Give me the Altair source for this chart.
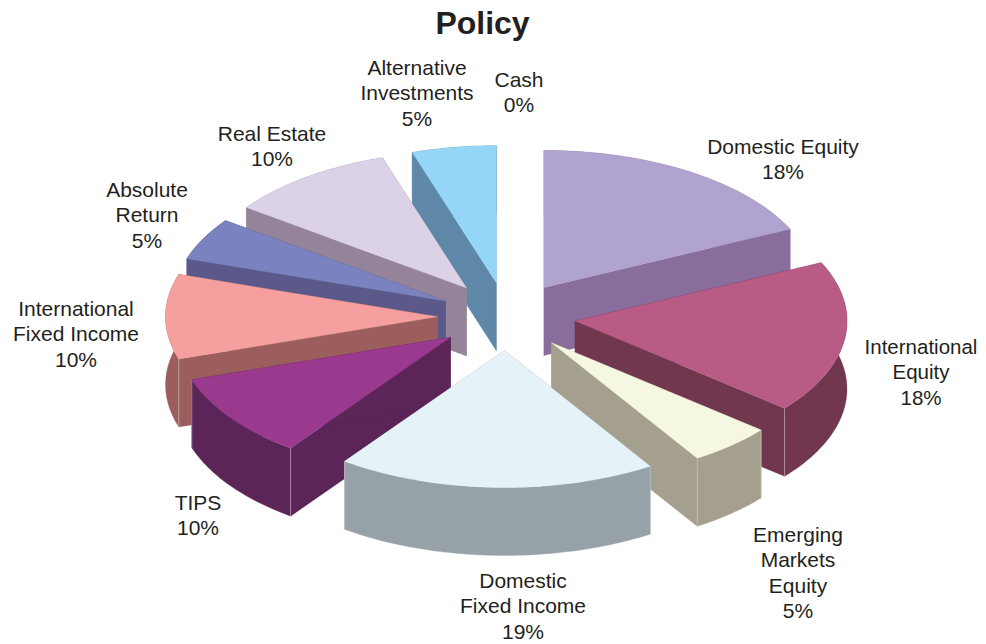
import math
import altair as alt

# ---- data
names = ["Domestic Equity", "International\nEquity", "Emerging\nMarkets\nEquity", "Domestic\nFixed Income",
         "TIPS", "International\nFixed Income", "Absolute\nReturn", "Real Estate",
         "Alternative\nInvestments", "Cash"]
shares = [18, 18, 5, 19, 10, 10, 5, 10, 5, 0]
top_colors = ["#B0A3D0", "#B85C85", "#F5F7E0", "#E5F3F8", "#993A8F", "#F5A09E", "#7A83BF", "#DBD2E8", "#95D5F5", "#FFFFFF"]
wall_colors = ["#896D9C", "#70374F", "#A5A08E", "#97A2A8", "#5B2558", "#9C5E5C", "#5B598A", "#958499", "#5F88A8", "#FFFFFF"]

# ---- layout of the exploded 3-D pie
RX, RY, DEPTH = 272, 137, 68
apex_x = [544.0, 575.0, 551.5, 504.5, 450.5, 437.5, 445.5, 466.5, 496.3, 510.0]
apex_y = [287.5, 321.0, 342.7, 350.5, 337.3, 316.7, 301.0, 288.0, 282.7, 320.0]
paint_order = [8, 0, 7, 6, 5, 1, 4, 2, 3]
label_x = [783, 921, 798, 523, 198, 76, 147, 272, 417, 519]
label_y = [147.5, 347.5, 535.5, 581.5, 503.5, 309.5, 190.5, 134.5, 68.5, 80.5]
label_size = [21, 20.5, 21, 21, 21, 21, 21, 21, 21, 21]


def polygon(points, fill, stroke, width):
    ring = [list(p) for p in points]
    ring.append(ring[0])
    return {"type": "Feature", "geometry": {"type": "Polygon", "coordinates": [ring]},
            "properties": {"fill": fill, "stroke": stroke, "sw": width}}


def edge(a, b, stroke):
    return {"type": "Feature", "geometry": {"type": "LineString", "coordinates": [list(a), list(b)]},
            "properties": {"fill": "none", "stroke": stroke, "sw": 0.5}}


def slice_features(i, start, sweep):
    ax, ay = apex_x[i], apex_y[i]
    steps = max(2, int(sweep))
    arc = []
    for k in range(steps + 1):
        t = math.radians(start + sweep * k / steps)
        arc.append((ax + RX * math.sin(t), ay - RY * math.cos(t)))
    down = lambda p: (p[0], p[1] + DEPTH)
    apex = (ax, ay)
    out = []
    wall, top = wall_colors[i], top_colors[i]
    out.append(polygon([apex, arc[0], down(arc[0]), down(apex)], wall, wall, 0.3))
    out.append(polygon([apex, arc[-1], down(arc[-1]), down(apex)], wall, wall, 0.3))
    out.append(polygon(arc + [down(p) for p in reversed(arc)], wall, wall, 0.3))
    for corner in (arc[0], arc[-1]):
        # corners on the front half show a pale vertical seam
        if corner[1] > ay + 20:
            out.append(edge(corner, down(corner), "#D8D0D8"))
    out.append(polygon([apex] + arc, top, top, 0.3))
    return out


starts, acc = [], 0
for s in shares:
    starts.append(acc)
    acc += s * 3.6

features = []
for i in paint_order:
    features += slice_features(i, starts[i], shares[i] * 3.6)

pie = alt.Chart(alt.Data(values=features)).mark_geoshape().encode(
    fill=alt.Fill("properties.fill:N", scale=None),
    stroke=alt.Stroke("properties.stroke:N", scale=None),
    strokeWidth=alt.StrokeWidth("properties.sw:Q", scale=None),
).project(type="identity", scale=1, translate=[-8, -8])

label_rows = [{"t": f"{n}\n{s}%", "x": x - 8, "y": y - 8, "fs": z}
              for n, s, x, y, z in zip(names, shares, label_x, label_y, label_size)]
labels = alt.Chart(alt.Data(values=label_rows)).mark_text(
    font="Liberation Sans", lineBreak="\n", lineHeight=25.5,
    align="center", baseline="middle", color="#231F20",
).encode(x=alt.X("x:Q", scale=None), y=alt.Y("y:Q", scale=None), text="t:N",
         size=alt.Size("fs:Q", scale=None))

title_rows = [{"t": "Policy", "x": 482.5 - 8, "y": 24 - 8}]
title = alt.Chart(alt.Data(values=title_rows)).mark_text(
    font="Liberation Sans", fontSize=32, fontWeight="bold",
    align="center", baseline="middle", color="#231F20",
).encode(x=alt.X("x:Q", scale=None), y=alt.Y("y:Q", scale=None), text="t:N")

chart = alt.layer(pie, labels, title).properties(
    width=970, height=636, padding=0,
    autosize=alt.AutoSizeParams(type="none"),
).configure_view(stroke=None)

chart.save("out.html", embed_options={"renderer": "svg", "actions": False})
